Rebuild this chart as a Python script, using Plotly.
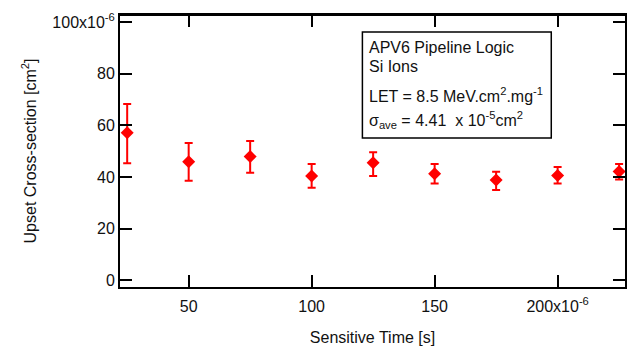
import plotly.graph_objects as go

# Data (seconds, cm^2)
sensitive_time = [25e-6, 50e-6, 75e-6, 100e-6, 125e-6, 150e-6, 175e-6, 200e-6, 225e-6]
cross_section = [57.1e-6, 45.9e-6, 47.9e-6, 40.4e-6, 45.5e-6, 41.2e-6, 38.8e-6, 40.6e-6, 42.1e-6]
upper_bound = [68.2e-6, 53.1e-6, 53.9e-6, 45.0e-6, 49.6e-6, 45.0e-6, 42.0e-6, 43.9e-6, 45.0e-6]
lower_bound = [45.3e-6, 38.5e-6, 41.6e-6, 35.8e-6, 40.4e-6, 37.5e-6, 35.0e-6, 37.5e-6, 39.0e-6]

x_tickvals = [50e-6, 100e-6, 150e-6, 200e-6]
x_ticktext = ["50", "100", "150", "200x10<sup>-6</sup>"]
y_tickvals = [0, 20e-6, 40e-6, 60e-6, 80e-6, 100e-6]
y_ticktext = ["0", "20", "40", "60", "80", "100x10<sup>-6</sup>"]

info_lines = [
    "APV6 Pipeline Logic",
    "Si Ions",
    "LET = 8.5 MeV.cm<sup>2</sup>.mg<sup>-1</sup>",
    "σ<sub>ave</sub> = 4.41  x 10<sup>-5</sup>cm<sup>2</sup>",
]

err_plus = [u - y for u, y in zip(upper_bound, cross_section)]
err_minus = [y - l for l, y in zip(lower_bound, cross_section)]

FONT = "Liberation Sans, Arial, sans-serif"
TXT = "#111"

fig = go.Figure()
fig.add_trace(go.Scatter(
    x=sensitive_time, y=cross_section, mode="markers",
    marker=dict(symbol="diamond", size=10, color="#ff0000"),
    error_y=dict(type="data", array=err_plus, arrayminus=err_minus,
                 color="#ff0000", thickness=2, width=4),
    showlegend=False, cliponaxis=False,
))

axis_common = dict(
    showline=True, linecolor="black", linewidth=2,
    ticks="inside", ticklen=12, tickwidth=2, tickcolor="black",
    showgrid=False, zeroline=False,
    tickfont=dict(family=FONT, size=16, color=TXT),
)

fig.update_xaxes(
    **axis_common, mirror="ticks",
    range=[22.08e-6, 227.4e-6],
    tickvals=x_tickvals, ticktext=x_ticktext,
    ticklabelstandoff=4,
    title=dict(text="Sensitive Time [s]", font=dict(family=FONT, size=16, color=TXT), standoff=18),
)
fig.update_yaxes(
    **axis_common, mirror="ticks",
    range=[-2.6e-6, 102.7e-6],
    tickvals=y_tickvals, ticktext=y_ticktext,
    ticklabelstandoff=0,
    title=dict(text="Upset Cross-section [cm<sup>2</sup>]", font=dict(family=FONT, size=16, color=TXT), standoff=12),
)

# top frame line (mirror line on x only)
fig.add_shape(type="line", xref="paper", yref="paper", x0=0, x1=1, y0=1, y1=1,
              line=dict(color="black", width=2))

# info box
fig.add_shape(type="rect", xref="paper", yref="paper",
              x0=0.480, x1=0.854, y0=0.548, y1=0.9375,
              line=dict(color="black", width=1.5), fillcolor="white", layer="above")

line_y = [0.879, 0.809, 0.706, 0.614]
for txt, yy in zip(info_lines, line_y):
    fig.add_annotation(text=txt, xref="paper", yref="paper", x=0.490, y=yy,
                       xanchor="left", yanchor="middle", showarrow=False,
                       font=dict(family=FONT, size=16, color=TXT))

fig.update_layout(
    width=627, height=347,
    margin=dict(l=120, r=0, t=15, b=60),
    plot_bgcolor="white", paper_bgcolor="white",
    font=dict(family=FONT, size=16, color=TXT),
    hovermode=False,
)

fig.write_html(
    "out.html",
    config={"displayModeBar": False, "staticPlot": True},
    post_script="document.body.style.margin='0';document.body.style.overflow='hidden';",
)
